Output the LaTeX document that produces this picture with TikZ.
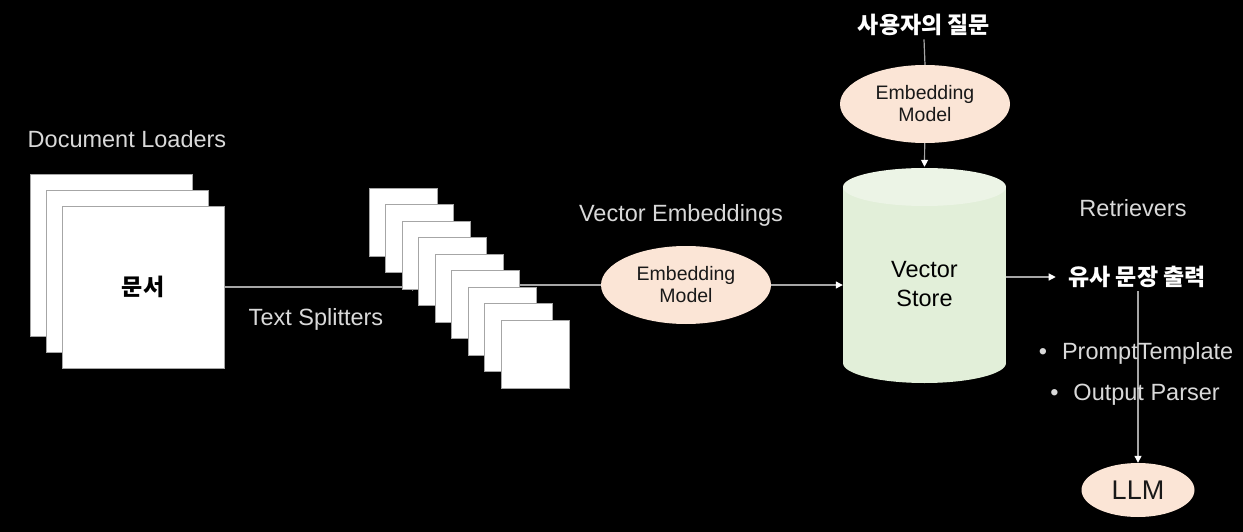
\documentclass[tikz,border=0pt]{standalone}
\usepackage{fontspec}
\setmainfont{Liberation Sans}
\newfontfamily\kr{Noto Sans CJK KR}
\usetikzlibrary{arrows.meta,shapes.geometric}
\definecolor{peach}{HTML}{FBE5D6}
\definecolor{sage}{HTML}{E2EFD9}
\definecolor{sagetop}{HTML}{ECF4E6}
\definecolor{lbl}{HTML}{D9D9D9}
\definecolor{wire}{HTML}{A6A6A6}
\begin{document}
\begin{tikzpicture}
		[x=1pt,y=-1pt,
		doc/.style={rectangle,draw=wire,fill=white,minimum size=162pt,inner sep=0pt},
		chunk/.style={rectangle,draw=wire,fill=white,minimum size=68pt,inner sep=0pt},
		model/.style={ellipse,fill=peach,minimum width=170pt,minimum height=78pt,inner sep=0pt,
			align=center,text=black!90,font=\fontsize{19.5}{22}\selectfont},
		caption/.style={text=lbl,font=\fontsize{23.5}{27}\selectfont},
		title/.style={text=white,font=\kr\bfseries\fontsize{23}{27}\selectfont},
		link/.style={draw=wire,line width=1.2pt},
		tip/.style={link,-{Triangle[color=white,length=7pt,width=7pt]}}
		]
		\fill[black] (0,0) rectangle (1243,532);
		\useasboundingbox (0,0) rectangle (1243,532);
		% documents
		\foreach \i in {0,1,2}
			\node[doc] (d\i) at (111+16*\i,255+16*\i){};
		\node[title,text=black] at (d2){문서};
		\node[caption] (loaders) at (127,139){Document Loaders};
		% chunks
		\coordinate (cin) at (419,287);
		\draw[tip] (d2.east) -- (cin);
		\foreach \i in {0,...,8}
			\node[chunk] (c\i) at (403+16.5*\i,222+16.5*\i){};
		\node[caption] (splitters) at (316,319){Text Splitters};
		% embedding
		\node[model] (emb1) at (686,285){Embedding\\Model};
		\draw[link] (c5.east |- emb1) -- (emb1.west);
		\node[caption] (vecemb) at (681,215){Vector Embeddings};
		% vector store
		\fill[sage] (843,187) rectangle (1006,363);
		\fill[sage] (924.5,363) ellipse[x radius=81.5,y radius=20];
		\fill[sagetop] (924.5,187) ellipse[x radius=81.5,y radius=19];
		\node[minimum width=163pt,minimum height=216pt,inner sep=0pt] (store) at (924.5,275){};
		\node[align=center,font=\fontsize{23.5}{29}\selectfont] (vs) at (924.5,284){Vector\\Store};
		\draw[tip] (emb1) -- (emb1 -| store.west);
		% question
		\node[title] (q) at (924,25){사용자의 질문};
		\node[model] (emb2) at (925,104){Embedding\\Model};
		\draw[link] (q.south) -- (emb2.north);
		\draw[tip] (emb2) -- (store.north);
		% retrieval
		\node[caption] (retr) at (1133,208){Retrievers};
		\node[title] (res) at (1137,277){유사 문장 출력};
		\draw[tip,shorten >=9pt] (store.east |- res) -- (res.west);
		\node[model,minimum width=113pt,minimum height=54pt,font=\fontsize{27}{31}\selectfont] (llm) at (1138,490){LLM};
		\draw[tip] (res.south -| llm) -- (llm.north);
		\node[caption] (pt) at (1136,353){\textbullet\hspace{15pt}PromptTemplate};
		\node[caption] (op) at (1135,395){\textbullet\hspace{15pt}Output Parser};
\end{tikzpicture}
\end{document}
